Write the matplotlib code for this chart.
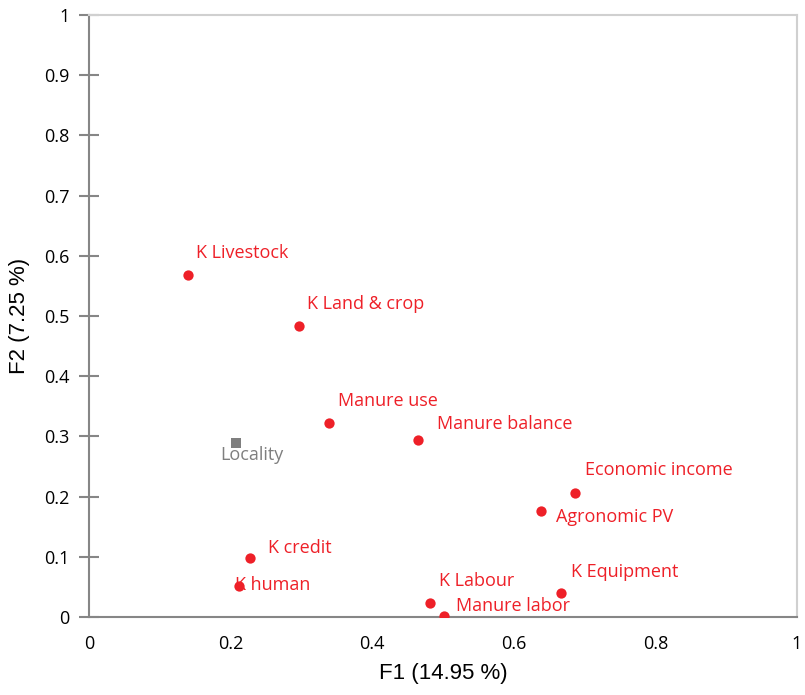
import matplotlib
matplotlib.use("Agg")
import matplotlib.pyplot as plt

names = ['K Livestock', 'K Land & crop', 'Manure use', 'Manure balance',
         'Economic income', 'Agronomic PV', 'K credit', 'K human',
         'K Labour', 'K Equipment', 'Manure labor']
f1 = [0.140, 0.296, 0.339, 0.464, 0.687, 0.638, 0.228, 0.212, 0.481, 0.666, 0.501]
f2 = [0.568, 0.483, 0.322, 0.294, 0.206, 0.176, 0.098, 0.051, 0.023, 0.040, 0.002]

sup_name = 'Locality'
sup_f1 = [0.208]
sup_f2 = [0.289]

# label offsets in pixels (dx, dy)
offs = [(8, 22), (8, 22), (9, 22), (19, 16), (10, 23), (15, -6), (18, 10),
        (-4, 1), (9, 22), (10, 21), (12, 10)]

red = '#ee2028'
grey = '#7f7f7f'

fig = plt.figure(figsize=(8.05, 6.95), dpi=100)
ax = fig.add_axes([0.1106, 0.1122, 0.8794, 0.8662])

ax.scatter(f1, f2, s=55, color=red, zorder=3, linewidths=0)
ax.scatter(sup_f1, sup_f2, s=55, marker='s', color=grey, zorder=3, linewidths=0)

for n, x, y, o in zip(names, f1, f2, offs):
    ax.annotate(n, (x, y), xytext=o, textcoords='offset pixels',
                ha='left', va='center', color=red, fontsize=13, family='Open Sans')
ax.annotate(sup_name, (sup_f1[0], sup_f2[0]), xytext=(-16, -12), textcoords='offset pixels',
            ha='left', va='center', color=grey, fontsize=13, family='Open Sans')

ax.set_xlim(0, 1)
ax.set_ylim(0, 1)
ax.set_xticks([0, 0.2, 0.4, 0.6, 0.8, 1])
ax.set_xticklabels(['0', '0.2', '0.4', '0.6', '0.8', '1'], family='Open Sans', fontsize=13)
ax.set_yticks([i / 10 for i in range(11)])
ax.set_yticklabels(['0', '0.1', '0.2', '0.3', '0.4', '0.5', '0.6', '0.7', '0.8', '0.9', '1'],
                   family='Open Sans', fontsize=13)
ax.tick_params(axis='x', length=0, pad=13)
ax.tick_params(axis='y', direction='inout', length=14, width=1.5, color='#868686', pad=7)

for s in ['top', 'right']:
    ax.spines[s].set_color('#d0d0d0')
    ax.spines[s].set_linewidth(1.5)
for s in ['left', 'bottom']:
    ax.spines[s].set_color('#868686')
    ax.spines[s].set_linewidth(1.5)

ax.set_xlabel('F1 (14.95 %)', family='Liberation Sans', fontsize=16, labelpad=7)
ax.set_ylabel('F2 (7.25 %)', family='Liberation Sans', fontsize=16, labelpad=10)

fig.savefig('out.png', dpi=100)
